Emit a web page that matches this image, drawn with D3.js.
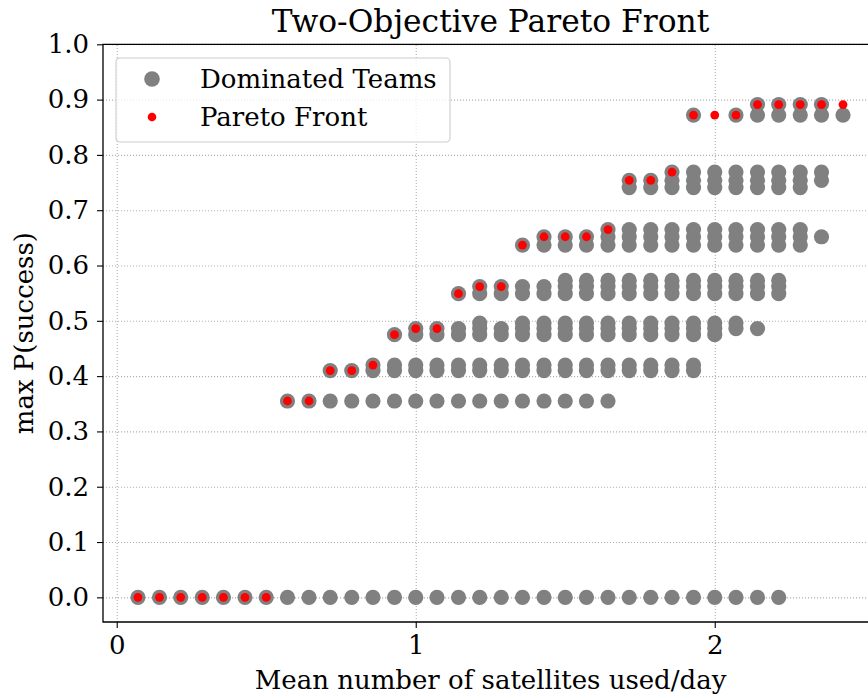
<!DOCTYPE html>
<html>
<head>
<meta charset="utf-8">
<script src="https://cdn.jsdelivr.net/npm/d3@7"></script>
<style>
  html, body { margin: 0; padding: 0; background: #fff; overflow: hidden; }
  svg { display: block; }
  svg text { font-family: "DejaVu Serif", serif; fill: #000; }
</style>
</head>
<body>
<div class="plot"></div>
<script>
// mean number of satellites used per day, one value per column (k/14)
const xValues = [null,
    0.071, 0.143, 0.214, 0.286, 0.357, 0.429, 0.500, 0.571, 0.643, 0.714,
    0.786, 0.857, 0.929, 1.000, 1.071, 1.143, 1.214, 1.286, 1.357, 1.429,
    1.500, 1.571, 1.643, 1.714, 1.786, 1.857, 1.929, 2.000, 2.071, 2.143,
    2.214, 2.286, 2.357, 2.429];

// dominated teams: each P(success) level with the columns it shows up in
const dominatedLevels = [
    { p: 0.000, cols: [1, 2, 3, 4, 5, 6, 7, 8, 9, 10, 11, 12, 13, 14, 15, 16, 17, 18, 19, 20, 21, 22, 23, 24, 25, 26, 27, 28, 29, 30, 31] },
    { p: 0.355, cols: [8, 9, 10, 11, 12, 13, 14, 15, 16, 17, 18, 19, 20, 21, 22, 23] },
    { p: 0.410, cols: [10, 11, 12, 13, 14, 15, 16, 17, 18, 19, 20, 21, 22, 23, 24, 25, 26, 27] },
    { p: 0.420, cols: [12, 13, 14, 15, 16, 17, 18, 19, 20, 21, 22, 23, 24, 25, 26, 27] },
    { p: 0.475, cols: [13, 14, 15, 16, 17, 18, 19, 20, 21, 22, 23, 24, 25, 26, 27, 28] },
    { p: 0.486, cols: [14, 15, 16, 17, 18, 19, 20, 21, 22, 23, 24, 25, 26, 27, 28, 29, 30] },
    { p: 0.496, cols: [17, 19, 20, 21, 22, 23, 24, 25, 26, 27, 28, 29] },
    { p: 0.549, cols: [16, 17, 18, 19, 20, 21, 22, 23, 24, 25, 26, 27, 28, 29, 30, 31] },
    { p: 0.562, cols: [17, 18, 19, 20, 21, 22, 23, 24, 25, 26, 27, 28, 29, 30, 31] },
    { p: 0.573, cols: [21, 22, 23, 24, 25, 26, 27, 28, 29, 30, 31] },
    { p: 0.637, cols: [19, 20, 21, 22, 23, 24, 25, 26, 27, 28, 29, 30, 31, 32] },
    { p: 0.652, cols: [20, 21, 22, 23, 24, 25, 26, 27, 28, 29, 30, 31, 32, 33] },
    { p: 0.665, cols: [23, 24, 25, 26, 27, 28, 29, 30, 31, 32] },
    { p: 0.741, cols: [24, 25, 26, 27, 28, 29, 30, 31, 32] },
    { p: 0.754, cols: [24, 25, 26, 27, 28, 29, 30, 31, 32, 33] },
    { p: 0.769, cols: [26, 27, 28, 29, 30, 31, 32, 33] },
    { p: 0.872, cols: [27, 29, 30, 31, 32, 33, 34] },
    { p: 0.891, cols: [30, 31, 32, 33] }
];

// pareto front, column -> P(success)
const paretoCols = [1, 2, 3, 4, 5, 6, 7, 8, 9, 10, 11, 12, 13, 14, 15, 16, 17,
    18, 19, 20, 21, 22, 23, 24, 25, 26, 27, 28, 29, 30, 31, 32, 33, 34];
const paretoP = [0, 0, 0, 0, 0, 0, 0, 0.355, 0.355, 0.410, 0.410, 0.420, 0.475,
    0.486, 0.486, 0.549, 0.562, 0.562, 0.637, 0.652, 0.652, 0.652, 0.665, 0.754,
    0.754, 0.769, 0.872, 0.872, 0.872, 0.891, 0.891, 0.891, 0.891, 0.891];

const xTicks = [0, 1, 2];
const yTicks = [0, 0.1, 0.2, 0.3, 0.4, 0.5, 0.6, 0.7, 0.8, 0.9, 1.0];
const legendLabels = ["Dominated Teams", "Pareto Front"];

// the axes box runs a bit past the right edge of the picture (cropped figure)
const width = 868,
    height = 698,
    margin = { top: 44.3, right: 0, bottom: 76, left: 103 },
    innerWidth = width - margin.left - margin.right,
    innerHeight = height - margin.top - margin.bottom,
    axesWidth = innerWidth + 10;

const dominated = [];
dominatedLevels.forEach(function(l) {
    l.cols.forEach(function(c) { dominated.push({ x: xValues[c], p: l.p }); });
});
const pareto = paretoCols.map(function(c, i) { return { x: xValues[c], p: paretoP[i] }; });

const svg = d3.select(".plot").append("svg")
    .attr("width", width)
    .attr("height", height)
    .append("g")
    .attr("transform", "translate(" + margin.left + "," + margin.top + ")");

const xScale = d3.scaleLinear().domain([-0.0459, 2.546]).range([0, axesWidth]);
const yScale = d3.scaleLinear().domain([-0.0446, 1.0]).range([innerHeight, 0]);

// grid in the back
const xGrid = svg.append("g")
    .attr("transform", "translate(0," + innerHeight + ")")
    .call(d3.axisBottom(xScale).tickValues(xTicks).tickSize(-innerHeight).tickFormat(""));
const yGrid = svg.append("g")
    .call(d3.axisLeft(yScale).tickValues(yTicks).tickSize(-innerWidth).tickFormat(""));
[xGrid, yGrid].forEach(function(g) {
    g.select(".domain").remove();
    g.selectAll("text").remove();
    g.selectAll("line")
        .attr("stroke", "#b0b0b0")
        .attr("stroke-width", 1.1)
        .attr("stroke-dasharray", "1.1,1.9");
});

// dots
svg.append("g").selectAll("circle").data(dominated).enter()
    .append("circle")
    .attr("cx", function(d) { return xScale(d.x); })
    .attr("cy", function(d) { return yScale(d.p); })
    .attr("r", 7.6)
    .attr("fill", "#808080");

svg.append("g").selectAll("circle").data(pareto).enter()
    .append("circle")
    .attr("cx", function(d) { return xScale(d.x); })
    .attr("cy", function(d) { return yScale(d.p); })
    .attr("r", 4.4)
    .attr("fill", "#ff0000");

// axes
const xAxis = svg.append("g")
    .attr("transform", "translate(0," + innerHeight + ")")
    .call(d3.axisBottom(xScale).tickValues(xTicks).tickFormat(d3.format("d")).tickSize(6).tickPadding(8));
const yAxis = svg.append("g")
    .call(d3.axisLeft(yScale).tickValues(yTicks).tickFormat(d3.format(".1f")).tickSize(6).tickPadding(8));
[xAxis, yAxis].forEach(function(g) {
    g.select(".domain").remove();
    g.selectAll("line").attr("stroke", "#000").attr("stroke-width", 1.1);
    g.selectAll("text").style("font-size", "26px").attr("fill", "#000");
});

// spines (left, top, bottom; the right one is off the picture)
svg.append("path")
    .attr("d", "M" + innerWidth + ",0H0V" + innerHeight + "H" + innerWidth)
    .attr("fill", "none")
    .attr("stroke", "#000")
    .attr("stroke-width", 1.3);

// labels
svg.append("text")
    .attr("text-anchor", "middle")
    .attr("x", axesWidth / 2)
    .attr("y", 689 - margin.top)
    .style("font-size", "26px")
    .text("Mean number of satellites used/day");

svg.append("text")
    .attr("text-anchor", "middle")
    .attr("transform", "translate(" + (33 - margin.left) + "," + (innerHeight / 2) + ") rotate(-90)")
    .style("font-size", "26px")
    .text("max P(success)");

svg.append("text")
    .attr("text-anchor", "middle")
    .attr("x", axesWidth / 2)
    .attr("y", 32 - margin.top)
    .style("font-size", "31.3px")
    .text("Two-Objective Pareto Front");

// legend
const legend = svg.append("g").attr("transform", "translate(" + (116 - margin.left) + "," + (58 - margin.top) + ")");
legend.append("rect")
    .attr("width", 334)
    .attr("height", 84)
    .attr("rx", 4)
    .attr("fill", "#fff")
    .attr("fill-opacity", 0.8)
    .attr("stroke", "#cccccc")
    .attr("stroke-width", 1.1);
legend.append("circle").attr("cx", 36).attr("cy", 21).attr("r", 7.8).attr("fill", "#808080");
legend.append("circle").attr("cx", 36).attr("cy", 59).attr("r", 4.3).attr("fill", "#ff0000");
legend.selectAll("text.lbl").data(legendLabels).enter()
    .append("text")
    .attr("class", "lbl")
    .attr("x", 84)
    .attr("y", function(d, i) { return 30 + i * 38; })
    .style("font-size", "26px")
    .text(function(d) { return d; });
</script>
</body>
</html>
